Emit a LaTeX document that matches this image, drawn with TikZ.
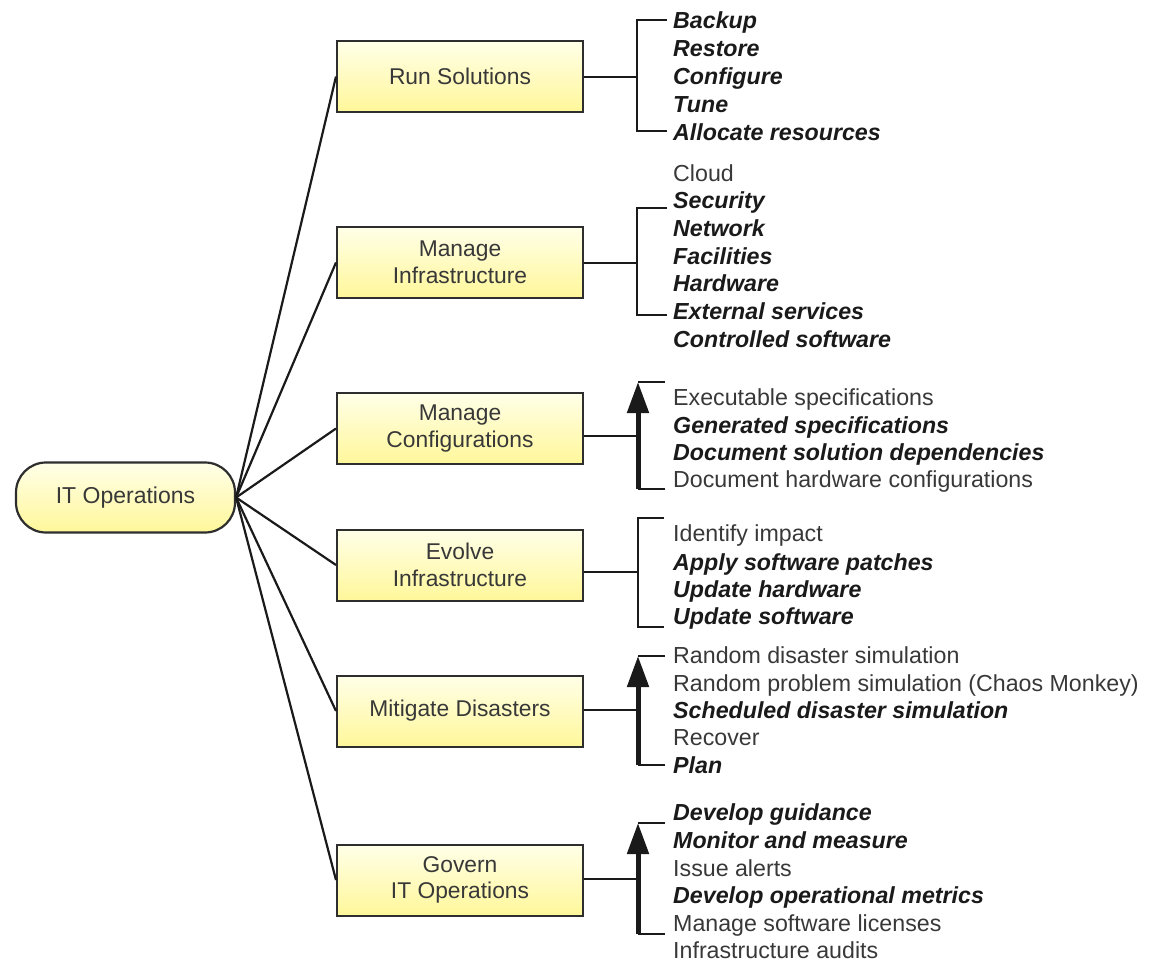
\documentclass[tikz,border=0pt]{standalone}
\usepackage{fontspec}
\setmainfont{Liberation Sans}
\usetikzlibrary{arrows.meta}
\definecolor{ink}{HTML}{1A1A1A}
\definecolor{txt}{HTML}{383838}
\definecolor{boxtop}{HTML}{FFFFE8}
\definecolor{boxbot}{HTML}{FFF79A}
\definecolor{frame}{HTML}{2E2E2E}
\tikzset{
  task/.style={draw=frame, line width=2pt, top color=boxtop, bottom color=boxbot,
    minimum width=246pt, minimum height=71pt, inner sep=0pt, align=center,
    font=\fontsize{22.8}{26.5}\selectfont, text=txt},
  hub/.style={task, rounded corners=30pt, minimum width=219pt, minimum height=70pt,
    line width=2.2pt, font=\fontsize{23}{27}\selectfont},
  item/.style={anchor=base west, inner sep=0pt, text=txt,
    font=\fontsize{23.2}{27}\selectfont},
  itemb/.style={item, text=ink, font=\fontsize{23.2}{27}\selectfont\bfseries\itshape},
  link/.style={draw=ink, line width=2.2pt},
  brace/.style={draw=ink, line width=1.8pt},
  flow/.style={draw=ink, line width=5pt, -{Triangle[width=21pt,length=31pt]}}
}
\begin{document}
\begin{tikzpicture}[x=1pt,y=-1pt]
\useasboundingbox (0,0) rectangle (1149,961);

% root and main activities
\node[hub]  (root) at (125.5,497.5) {IT Operations};
\node[task] (rs) at (460,76.5)  {Run Solutions};
\node[task] (mi) at (460,262.5) {Manage\\Infrastructure};
\node[task] (mc) at (460,428.5) {Manage\\Configurations};
\node[task] (ev) at (460,565)   {Evolve\\Infrastructure};
\node[task] (md) at (460,711)   {Mitigate Disasters};
\node[task] (gv) at (460,880)   {Govern\\IT Operations};

\foreach \b in {rs,mi,mc,ev,md,gv}
  \draw[link] (root.east) -- (\b.west);

% Run Solutions
\node[itemb] (rs1) at (673,28)  {Backup};
\node[itemb] (rs2) at (673,56)  {Restore};
\node[itemb] (rs3) at (673,84)  {Configure};
\node[itemb] (rs4) at (673,112) {Tune};
\node[itemb] (rs5) at (673,140) {Allocate resources};
\coordinate (rsT) at (667,20);
\coordinate (rsB) at (667,131);
\coordinate (rsJ) at (637,77);
\draw[brace] (rs.east |- rsJ) -- (rsJ);
\draw[brace] (rsT) -| (rsJ) |- (rsB);

% Manage Infrastructure
\node[item]  (mi1) at (673,181) {Cloud};
\node[itemb] (mi2) at (673,208) {Security};
\node[itemb] (mi3) at (673,236) {Network};
\node[itemb] (mi4) at (673,264) {Facilities};
\node[itemb] (mi5) at (673,291) {Hardware};
\node[itemb] (mi6) at (673,319) {External services};
\node[itemb] (mi7) at (673,347) {Controlled software};
\coordinate (miT) at (667,208);
\coordinate (miB) at (667,315);
\coordinate (miJ) at (637,263);
\draw[brace] (mi.east |- miJ) -- (miJ);
\draw[brace] (miT) -| (miJ) |- (miB);

% Manage Configurations
\node[item]  (mc1) at (673,405) {Executable specifications};
\node[itemb] (mc2) at (673,433) {Generated specifications};
\node[itemb] (mc3) at (673,460) {Document solution dependencies};
\node[item]  (mc4) at (673,487) {Document hardware configurations};
\coordinate (mcT) at (665,382);
\coordinate (mcB) at (665,489);
\coordinate (mcJ) at (638,436);
\draw[brace] (mc.east |- mcJ) -- (mcJ);
\draw[brace] (mcT) -- (mcT -| mcJ);
\draw[brace] (mcB) -- (mcB -| mcJ);
\draw[flow] (mcJ |- mcB) -- (mcJ |- mcT);

% Evolve Infrastructure
\node[item]  (ev1) at (673,541) {Identify impact};
\node[itemb] (ev2) at (673,570) {Apply software patches};
\node[itemb] (ev3) at (673,597) {Update hardware};
\node[itemb] (ev4) at (673,624) {Update software};
\coordinate (evT) at (664,518);
\coordinate (evB) at (664,627);
\coordinate (evJ) at (638,572);
\draw[brace] (ev.east |- evJ) -- (evJ);
\draw[brace] (evT) -| (evJ) |- (evB);

% Mitigate Disasters
\node[item]  (md1) at (673,663) {Random disaster simulation};
\node[item]  (md2) at (673,691) {Random problem simulation (Chaos Monkey)};
\node[itemb] (md3) at (673,718) {Scheduled disaster simulation};
\node[item]  (md4) at (673,745) {Recover};
\node[itemb] (md5) at (673,773) {Plan};
\coordinate (mdT) at (665,656);
\coordinate (mdB) at (665,765);
\coordinate (mdJ) at (638,710);
\draw[brace] (md.east |- mdJ) -- (mdJ);
\draw[brace] (mdT) -- (mdT -| mdJ);
\draw[brace] (mdB) -- (mdB -| mdJ);
\draw[flow] (mdJ |- mdB) -- (mdJ |- mdT);

% Govern IT Operations
\node[itemb] (gv1) at (673,820) {Develop guidance};
\node[itemb] (gv2) at (673,848) {Monitor and measure};
\node[item]  (gv3) at (673,876) {Issue alerts};
\node[itemb] (gv4) at (673,903) {Develop operational metrics};
\node[item]  (gv5) at (673,931) {Manage software licenses};
\node[item]  (gv6) at (673,958) {Infrastructure audits};
\coordinate (gvT) at (665,823);
\coordinate (gvB) at (665,934);
\coordinate (gvJ) at (638,879);
\draw[brace] (gv.east |- gvJ) -- (gvJ);
\draw[brace] (gvT) -- (gvT -| gvJ);
\draw[brace] (gvB) -- (gvB -| gvJ);
\draw[flow] (gvJ |- gvB) -- (gvJ |- gvT);
\end{tikzpicture}
\end{document}
